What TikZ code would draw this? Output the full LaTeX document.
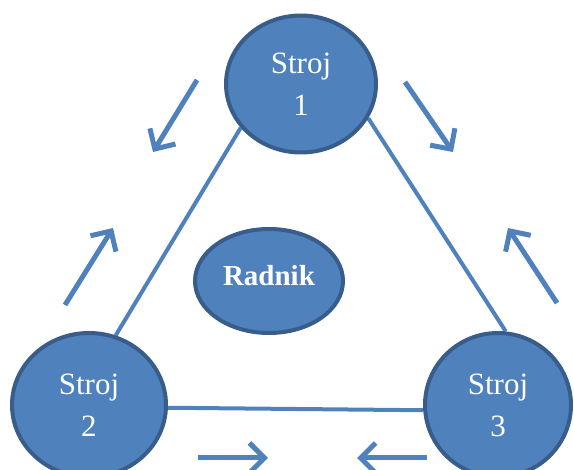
\documentclass[tikz,border=0pt]{standalone}
\usepackage{fontspec}
\setmainfont{Liberation Serif}
\usetikzlibrary{shapes.geometric,arrows.meta,backgrounds}
\definecolor{strojfill}{RGB}{79,129,189}
\definecolor{strojrub}{RGB}{56,93,138}

\begin{document}
\begin{tikzpicture}[x=1pt, y=-1pt,
        stroj/.style={ellipse, draw=strojrub, fill=strojfill, line width=4pt, inner sep=0pt,
            text=white, align=center, font=\fontsize{31}{42}\selectfont},
        veza/.style={draw=strojfill, line width=4pt},
        smjer/.style={draw=strojfill, line width=5pt, -{Straight Barb[length=15pt, width=30pt]}}]
        \useasboundingbox (0,0) rectangle (574,470);

        % strojevi i radnik
        \node[stroj, minimum width=150pt, minimum height=137pt] (s1) at (301,84) {Stroj\\1};
        \node[stroj, minimum width=154pt, minimum height=144pt] (s2) at (89,405) {Stroj\\2};
        \node[stroj, minimum width=146pt, minimum height=144pt] (s3) at (498,405) {Stroj\\3};
        \node[stroj, minimum width=148pt, minimum height=104pt, text depth=12pt,
            font=\fontsize{29}{34}\selectfont\bfseries] (radnik) at (269,281) {Radnik};

        % veze izmedju strojeva
        \begin{scope}[on background layer]
            \draw[veza] (s1.216) -- (s2.69);
            \draw[veza] (s1.333) -- (s3.84);
            \draw[veza] (s2.358) -- (s3.184);
        \end{scope}

        % smjerovi kretanja
        \coordinate (a1) at (197,80);  \coordinate (b1) at (153,152);
        \coordinate (a2) at (405,82);  \coordinate (b2) at (453,152);
        \coordinate (a3) at (65,305);  \coordinate (b3) at (113,228);
        \coordinate (a4) at (557,303); \coordinate (b4) at (508,228);
        \coordinate (a5) at (198,458); \coordinate (b5) at (268,458);
        \coordinate (a6) at (427,458); \coordinate (b6) at (357,458);
        \foreach \i in {1,...,6}
            \draw[smjer] (a\i) -- (b\i);
    \end{tikzpicture}
\end{document}
